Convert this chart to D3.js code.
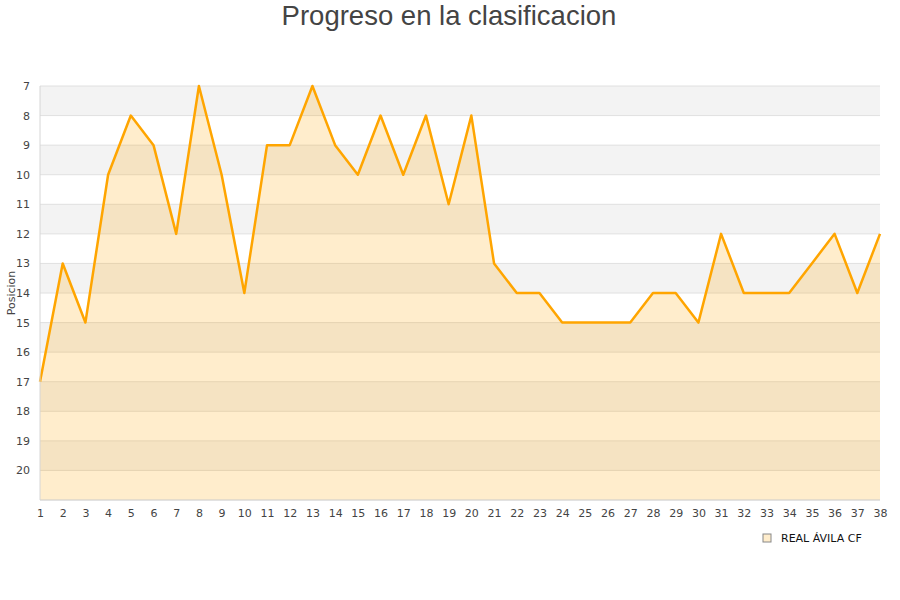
<!DOCTYPE html>
<html>
<head>
<meta charset="utf-8">
<script src="https://cdn.jsdelivr.net/npm/d3@7"></script>
<style>
  body { margin: 0; background: #fff; }
  svg text { font-family: "DejaVu Sans", sans-serif; }
</style>
</head>
<body>
<div id="chart"></div>
<script>
// jornadas and league position
const jornadas = d3.range(1, 39);
const posiciones = [17, 13, 15, 10, 8, 9, 12, 7, 10, 14, 9, 9, 7, 9, 10, 8, 10, 8, 11, 8,
                    13, 14, 14, 15, 15, 15, 15, 14, 14, 15, 12, 14, 14, 14, 13, 12, 14, 12];
const yTicks = d3.range(7, 21);
const equipo = "REAL ÁVILA CF";
const titulo = "Progreso en la clasificacion";

const W = 900, H = 600;
const margin = {top: 86, right: 20, bottom: 100, left: 40};
const width = W - margin.left - margin.right;
const height = H - margin.top - margin.bottom;

const svg = d3.select("#chart").append("svg")
    .attr("width", W)
    .attr("height", H);

svg.append("text")
    .attr("x", W / 2 - 1)
    .attr("y", 25)
    .attr("text-anchor", "middle")
    .style("font-family", "'Liberation Sans', Arial, sans-serif")
    .style("font-size", "27.5px")
    .style("fill", "#444")
    .text(titulo);

const g = svg.append("g")
    .attr("transform", `translate(${margin.left},${margin.top})`);

const x = d3.scaleLinear().domain([1, 38]).range([0, width]);
const y = d3.scaleLinear().domain([7, 21]).range([0, height]);

// alternating bands
g.selectAll(".band")
    .data(d3.range(7, 21))
    .enter().append("rect")
    .attr("class", "band")
    .attr("x", 0)
    .attr("width", width)
    .attr("y", d => y(d))
    .attr("height", d => y(d + 1) - y(d))
    .style("fill", d => (d - 7) % 2 === 0 ? "#f3f3f3" : "#ffffff");

// grid lines
g.selectAll(".grid")
    .data(d3.range(7, 22))
    .enter().append("line")
    .attr("class", "grid")
    .attr("x1", 0).attr("x2", width)
    .attr("y1", d => y(d)).attr("y2", d => y(d))
    .style("stroke", "#e0e0e0")
    .style("stroke-width", 1);

const data = jornadas.map((j, i) => ({j: j, p: posiciones[i]}));

const area = d3.area()
    .x(d => x(d.j))
    .y0(y(21))
    .y1(d => y(d.p));

g.append("path")
    .datum(data)
    .attr("d", area)
    .style("fill", "rgba(255,165,0,0.2)");

const line = d3.line()
    .x(d => x(d.j))
    .y(d => y(d.p));

g.append("path")
    .datum(data)
    .attr("d", line)
    .style("fill", "none")
    .style("stroke", "#ffa500")
    .style("stroke-width", 2.5)
    .style("stroke-linejoin", "round");

// axes lines
g.append("line")
    .attr("x1", 0).attr("x2", 0)
    .attr("y1", 0).attr("y2", height)
    .style("stroke", "#d6d6d6");
g.append("line")
    .attr("x1", 0).attr("x2", width)
    .attr("y1", height).attr("y2", height)
    .style("stroke", "#d6d6d6");

// y tick labels
const yAxis = d3.axisLeft(y).tickValues(yTicks).tickSize(0).tickPadding(10);
const yAxisG = g.append("g").call(yAxis);
yAxisG.select(".domain").remove();
yAxisG.selectAll("text")
    .style("font-size", "11px")
    .style("fill", "#444");

// x tick labels
const xAxis = d3.axisBottom(x).tickValues(jornadas).tickSize(0).tickPadding(9).tickFormat(d3.format("d"));
const xAxisG = g.append("g")
    .attr("transform", `translate(0,${height})`)
    .call(xAxis);
xAxisG.select(".domain").remove();
xAxisG.selectAll("text")
    .style("font-size", "11px")
    .style("fill", "#444");

// y axis title
svg.append("text")
    .attr("transform", `translate(15,${margin.top + height / 2})  rotate(-90)`)
    .attr("text-anchor", "middle")
    .style("font-size", "11px")
    .style("fill", "#444")
    .text("Posicion");

// legend
const legend = svg.append("g").attr("transform", "translate(763,534)");
legend.append("rect")
    .attr("width", 8).attr("height", 8)
    .style("fill", "#ffedcc")
    .style("stroke", "#888")
    .style("stroke-width", 1);
legend.append("text")
    .attr("x", 18)
    .attr("y", 8)
    .style("font-size", "11px")
    .style("fill", "#111")
    .text(equipo);
</script>
</body>
</html>
